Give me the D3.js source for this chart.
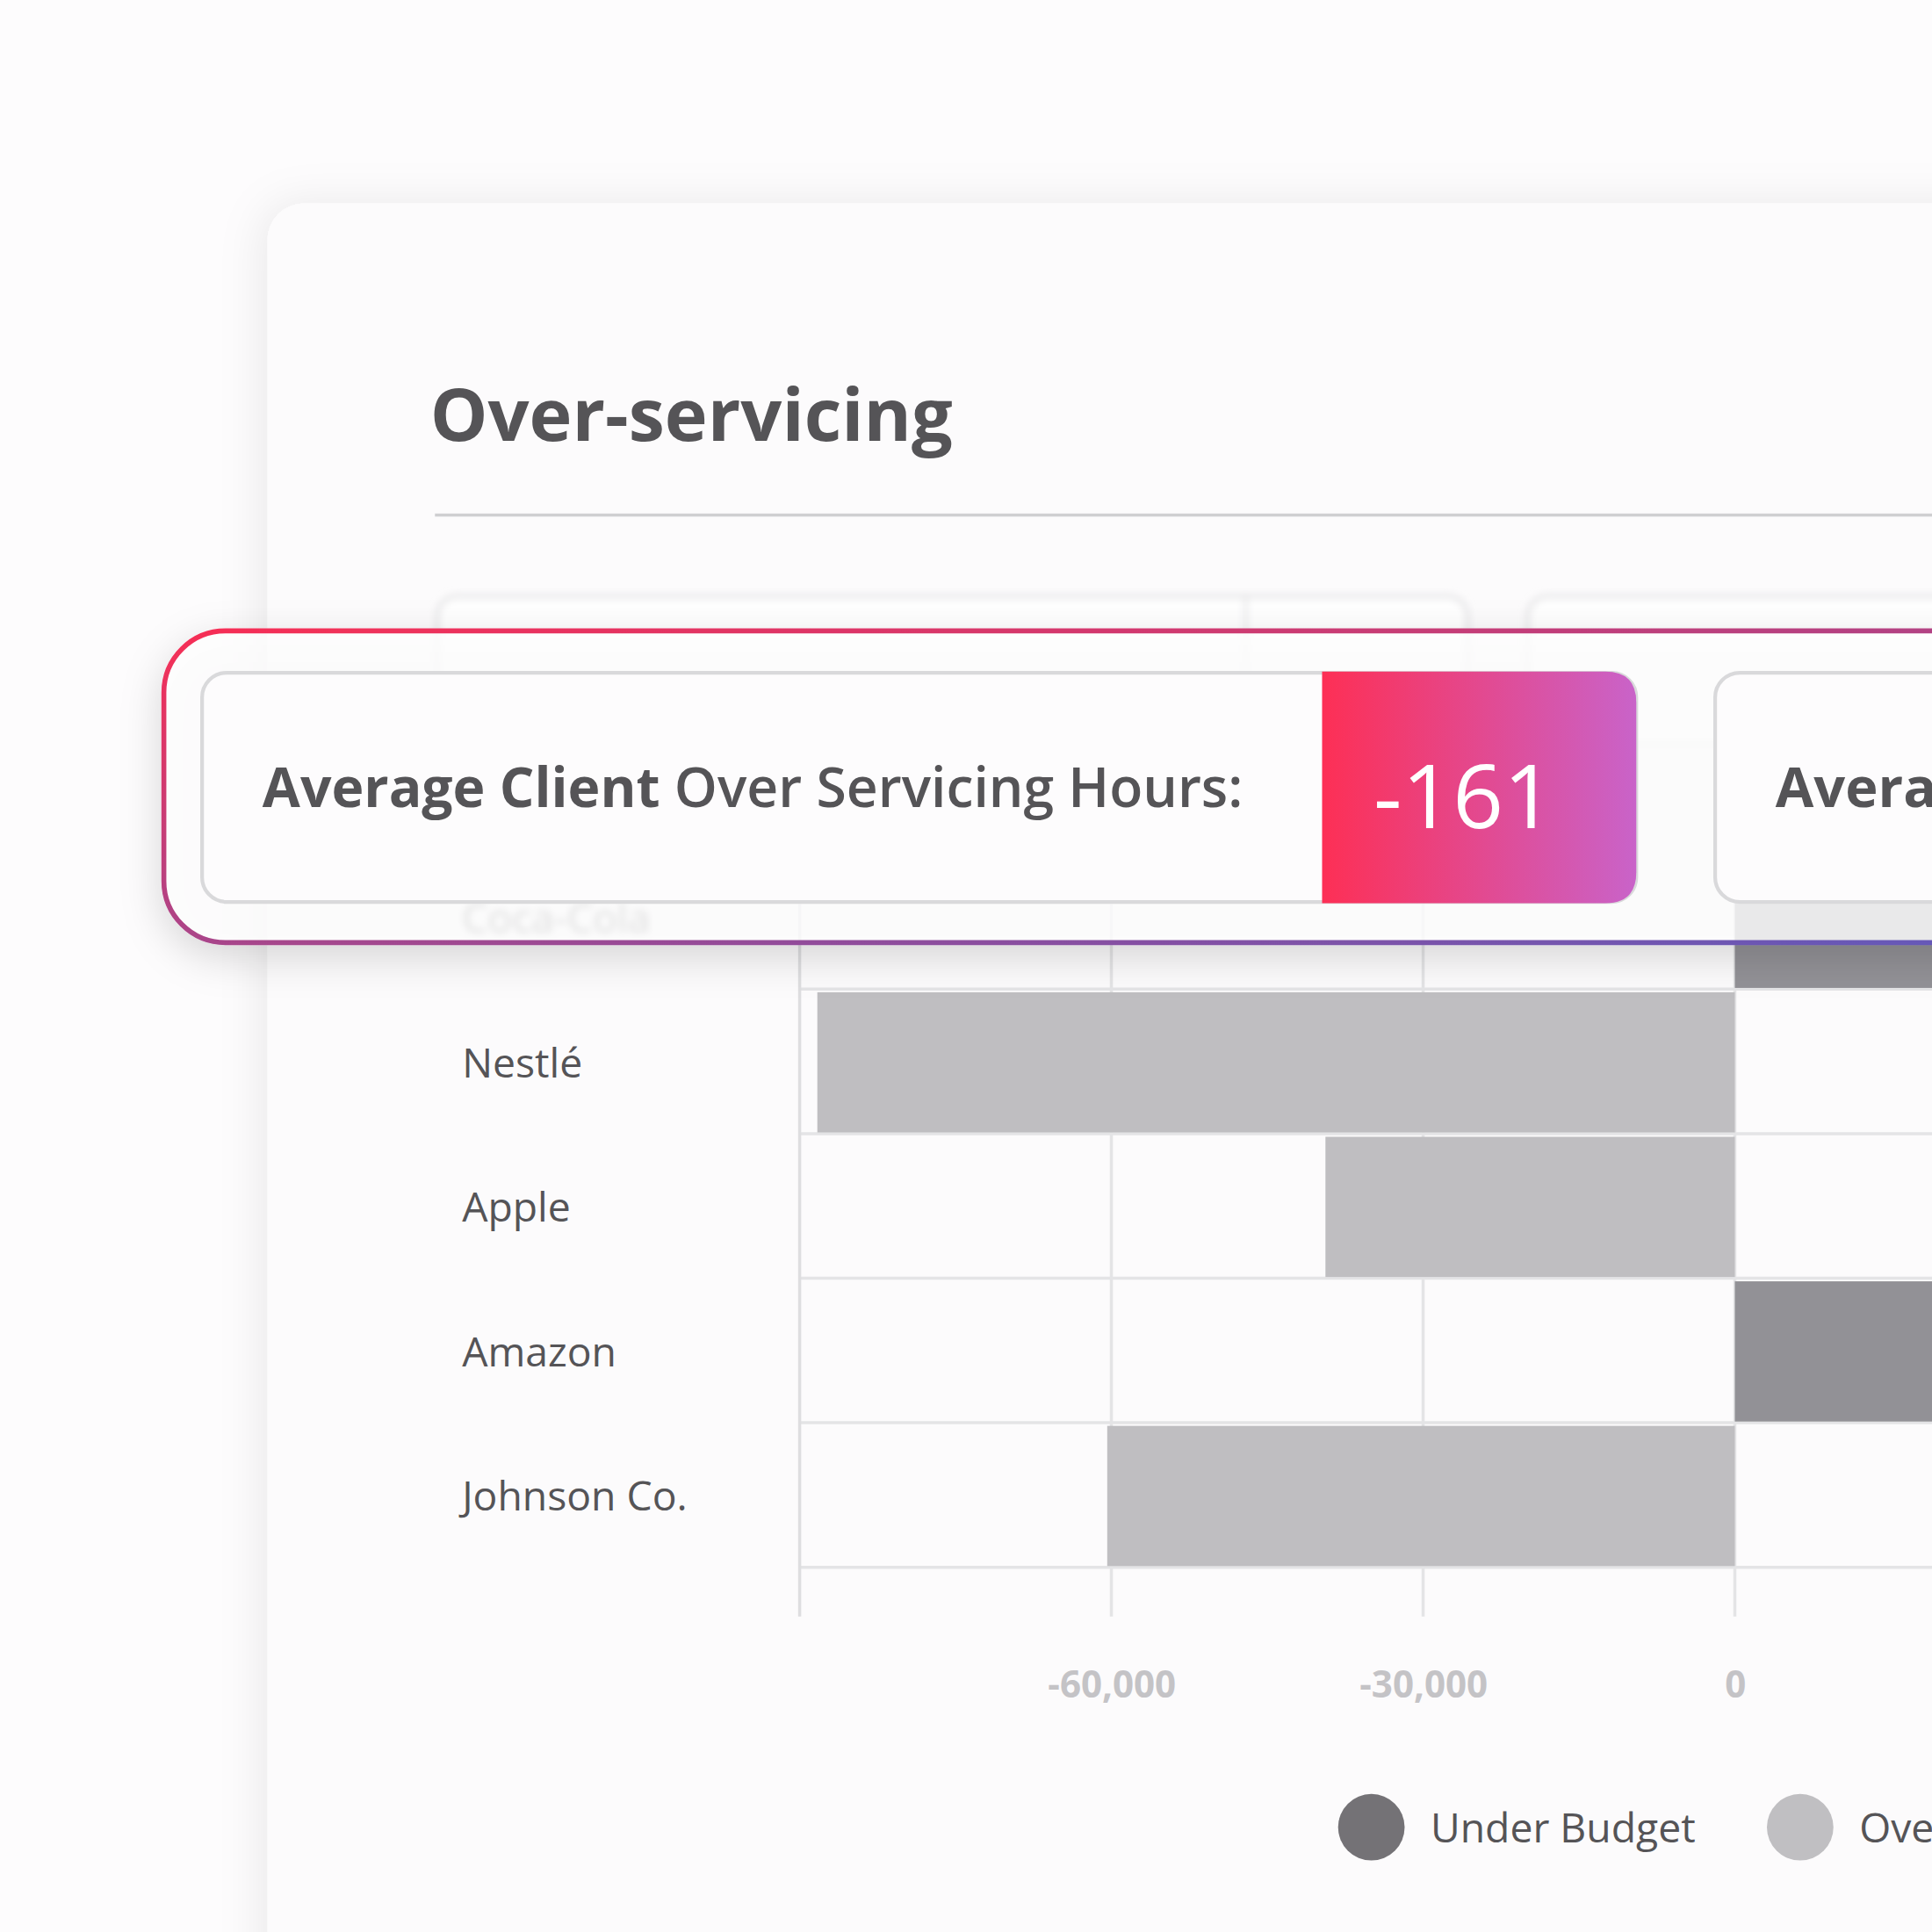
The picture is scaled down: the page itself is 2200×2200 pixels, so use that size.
<!DOCTYPE html>
<html><head><meta charset="utf-8">
<script src="https://cdn.jsdelivr.net/npm/d3@7"></script>
<style>body{margin:0;background:#fdfcfd;overflow:hidden}svg{display:block}</style>
</head><body>
<svg id="chart" width="2200" height="2200" viewBox="0 0 1568 1568"></svg>
<script>
// data
const clients = ["Coca-Cola", "Nestlé", "Apple", "Amazon", "Johnson Co."];
const hours = [26000, -88300, -39400, 30000, -60400];
const ticks = [-60000, -30000, 0];
const legendLabels = ["Under Budget", "Over Budget"];
const legendColors = ["#747276", "#c0bfc2"];

const svg = d3.select("#chart");
const font = "'Open Sans', sans-serif";
const defs = svg.append("defs");

const sh = defs.append("filter").attr("id", "shadow").attr("x", "-20%").attr("y", "-30%").attr("width", "140%").attr("height", "160%");
sh.append("feDropShadow").attr("dx", 0).attr("dy", 10).attr("stdDeviation", 16).attr("flood-color", "#000").attr("flood-opacity", 0.18);
const cs = defs.append("filter").attr("id", "cardShadow").attr("x", "-20%").attr("y", "-20%").attr("width", "140%").attr("height", "140%");
cs.append("feDropShadow").attr("dx", -4).attr("dy", 0).attr("stdDeviation", 18).attr("flood-color", "#000").attr("flood-opacity", 0.08);
defs.append("filter").attr("id", "blur").append("feGaussianBlur").attr("stdDeviation", 3);

const outerGrad = defs.append("linearGradient").attr("id", "outerGrad").attr("x1", 0).attr("y1", 0).attr("x2", 1).attr("y2", 1);
outerGrad.append("stop").attr("offset", "0%").attr("stop-color", "#f72e55");
outerGrad.append("stop").attr("offset", "100%").attr("stop-color", "#5e5bbd");
const valGrad = defs.append("linearGradient").attr("id", "valGrad");
valGrad.append("stop").attr("offset", "0%").attr("stop-color", "#fd2f55");
valGrad.append("stop").attr("offset", "100%").attr("stop-color", "#c963c9");

// card
svg.append("rect").attr("x", 217).attr("y", 165).attr("width", 1500).attr("height", 1600)
  .attr("rx", 30).attr("fill", "#fcfbfc").attr("filter", "url(#cardShadow)");

svg.append("text").attr("x", 349).attr("y", 358).text("Over-servicing")
  .attr("font-family", font).attr("font-weight", 700).attr("font-size", 59).attr("fill", "#555457");
svg.append("line").attr("x1", 353).attr("x2", 1600).attr("y1", 418).attr("y2", 418)
  .attr("stroke", "#cfcfd1").attr("stroke-width", 2.5);

// blurred stat cards behind
const back = svg.append("g").attr("filter", "url(#blur)");
[[355, 836], [1240, 600]].forEach(([bx, bw]) => {
  back.append("rect").attr("x", bx).attr("y", 484).attr("width", bw).attr("height", 120)
    .attr("rx", 16).attr("fill", "#fff").attr("stroke", "#dcdcde").attr("stroke-width", 2.5);
});
back.append("line").attr("x1", 1011).attr("x2", 1011).attr("y1", 484).attr("y2", 600).attr("stroke", "#dcdcde").attr("stroke-width", 2);

// chart
const x = d3.scaleLinear().domain([-90000, 30000]).range([649, 1661]);
const y = d3.scaleBand().domain(clients).range([688, 1271]).paddingInner(0.03);

const g = svg.append("g");
g.selectAll("line.grid").data(ticks).enter().append("line")
  .attr("x1", d => x(d)).attr("x2", d => x(d)).attr("y1", 688).attr("y2", 1312)
  .attr("stroke", "#e4e4e6").attr("stroke-width", 2.5);
g.selectAll("line.row").data(clients).enter().append("line")
  .attr("x1", 649).attr("x2", 1600)
  .attr("y1", d => y(d) + y.bandwidth() + 1).attr("y2", d => y(d) + y.bandwidth() + 1)
  .attr("stroke", "#e4e4e6").attr("stroke-width", 2.5);
g.append("line").attr("x1", 649).attr("x2", 649).attr("y1", 688).attr("y2", 1312)
  .attr("stroke", "#dedee0").attr("stroke-width", 2.5);

g.selectAll("rect.bar").data(clients).enter().append("rect")
  .attr("x", (d, i) => x(Math.min(0, hours[i])))
  .attr("width", (d, i) => Math.abs(x(hours[i]) - x(0)))
  .attr("y", d => y(d)).attr("height", y.bandwidth())
  .attr("fill", (d, i) => hours[i] >= 0 ? "#929196" : "#bfbec1");

g.selectAll("text.cl").data(clients).enter().append("text")
  .attr("x", 375).attr("y", d => y(d) + y.bandwidth() / 2 + 12).text(d => d)
  .attr("font-family", font).attr("font-size", 33).attr("fill", "#555457")
  .attr("filter", (d, i) => i === 0 ? "url(#blur)" : null);

const fmt = d3.formatLocale({decimal: ".", thousands: ",", grouping: [3], currency: ["", ""], minus: "-"}).format(",");
const ax = g.append("g").attr("transform", "translate(0,1375)")
  .call(d3.axisBottom(x).tickValues(ticks).tickSize(0).tickFormat(fmt));
ax.select(".domain").remove();
ax.selectAll("text").attr("font-family", font).attr("font-size", 30).attr("font-weight", 700)
  .attr("fill", "#c4c3c6").attr("dy", 0);

// legend
const lg = svg.append("g");
legendLabels.forEach((l, i) => {
  const lx = 1113 + i * 348;
  lg.append("circle").attr("cx", lx).attr("cy", 1483).attr("r", 27).attr("fill", legendColors[i]);
  lg.append("text").attr("x", lx + 48).attr("y", 1495).text(l)
    .attr("font-family", font).attr("font-size", 33).attr("fill", "#555457");
});

// highlight overlay
svg.append("rect").attr("x", 133).attr("y", 512).attr("width", 1600).attr("height", 253)
  .attr("rx", 50).attr("fill", "#fff").attr("fill-opacity", 0.8)
  .attr("stroke", "url(#outerGrad)").attr("stroke-width", 4).attr("filter", "url(#shadow)");
svg.append("rect").attr("x", 164).attr("y", 546).attr("width", 1164).attr("height", 186)
  .attr("rx", 20).attr("fill", "#fdfcfd").attr("stroke", "#d9d9db").attr("stroke-width", 3);
svg.append("rect").attr("x", 1392).attr("y", 546).attr("width", 600).attr("height", 186)
  .attr("rx", 20).attr("fill", "#fdfcfd").attr("stroke", "#d9d9db").attr("stroke-width", 3);
svg.append("path").attr("d", "M1073,545 H1303 Q1328,545 1328,570 V708 Q1328,733 1303,733 H1073 Z")
  .attr("fill", "url(#valGrad)");

const t1 = svg.append("text").attr("x", 213).attr("y", 655)
  .attr("font-family", font).attr("font-size", 44.5).attr("fill", "#555457");
t1.append("tspan").attr("font-weight", 700).text("Average Client ");
t1.append("tspan").attr("font-weight", 600).text("Over Servicing Hours:");
svg.append("text").attr("x", 1188).attr("y", 672).attr("text-anchor", "middle").text("-161")
  .attr("font-family", font).attr("font-weight", 500).attr("font-size", 72).attr("fill", "#fff");
svg.append("text").attr("x", 1441).attr("y", 655).text("Average Client Under Servicing Hours:")
  .attr("font-family", font).attr("font-weight", 700).attr("font-size", 45).attr("fill", "#555457");
</script>
</body></html>
